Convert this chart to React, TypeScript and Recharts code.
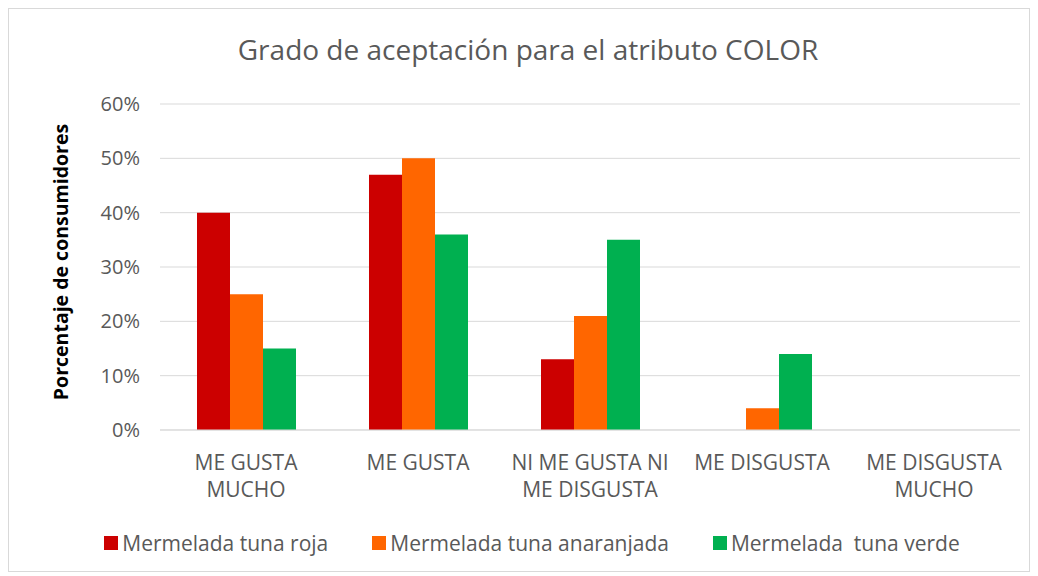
import React from 'react';
import { BarChart, Bar, XAxis, YAxis, CartesianGrid, Legend } from 'recharts';

const categories = ['ME GUSTA\nMUCHO', 'ME GUSTA', 'NI ME GUSTA NI\nME DISGUSTA', 'ME DISGUSTA', 'ME DISGUSTA\nMUCHO'];
const roja = [0.40, 0.47, 0.13, 0, 0];
const anaranjada = [0.25, 0.50, 0.21, 0.04, 0];
const verde = [0.15, 0.36, 0.35, 0.14, 0];
const yTicks = [0, 0.1, 0.2, 0.3, 0.4, 0.5, 0.6];
const seriesNames = ['Mermelada tuna roja', 'Mermelada tuna anaranjada', 'Mermelada  tuna verde'];
const seriesColors = ['#CC0000', '#FF6600', '#00B050'];

const data = categories.map((c, i) => ({ cat: c, roja: roja[i], anaranjada: anaranjada[i], verde: verde[i] }));

const FONT = '"Open Sans", sans-serif';

const XTick = (props: any) => {
  const { x, y, payload } = props;
  const lines = String(payload.value).split('\n');
  return (
    <text x={x} y={y} textAnchor="middle" fill="#595959" fontFamily={FONT} fontSize={21}>
      {lines.map((l, i) => (
        <tspan key={i} x={x} dy={i === 0 ? 32 : 27}>{l}</tspan>
      ))}
    </text>
  );
};

const LegendContent = () => (
  <div style={{ display: 'flex', justifyContent: 'center', gap: 44, fontFamily: FONT, fontSize: 21, color: '#595959', paddingLeft: 26, height: 24, lineHeight: '24px' }}>
    {seriesNames.map((n, i) => (
      <div key={i} style={{ display: 'flex', alignItems: 'center' }}>
        <span style={{ display: 'inline-block', width: 14, height: 14, background: seriesColors[i], marginRight: 4 }} />
        <span style={{ whiteSpace: 'pre' }}>{n}</span>
      </div>
    ))}
  </div>
);

const YLabel = (props: any) => {
  const { viewBox } = props;
  const cx = 51;
  const cy = viewBox.y + viewBox.height / 2 - 5;
  return (
    <text x={cx} y={cy} transform={`rotate(-90, ${cx}, ${cy})`} textAnchor="middle" dominantBaseline="central"
      fontFamily={FONT} fontSize={19.5} fontWeight="bold" fill="#000">
      Porcentaje de consumidores
    </text>
  );
};

export default function App() {
  return (
    <div style={{ position: 'relative', width: 1020, height: 562, border: '1px solid #d9d9d9', background: '#fff' }}>
      <div style={{ position: 'absolute', top: 21, left: 0, width: 1020, textAlign: 'center', fontFamily: FONT, fontSize: 28, color: '#595959', paddingLeft: 18, boxSizing: 'border-box' }}>
        Grado de aceptación para el atributo COLOR
      </div>
      <BarChart width={1020} height={562} data={data} margin={{ top: 95, right: 9, left: 91, bottom: 57 }} barGap={0} barSize={33}>
        <CartesianGrid vertical={false} stroke="#d9d9d9" />
        <XAxis dataKey="cat" tick={<XTick />} tickLine={false} axisLine={{ stroke: '#d9d9d9' }} interval={0} height={60} />
        <YAxis width={60} domain={[0, 0.6]} ticks={yTicks} tickFormatter={(v: number) => `${Math.round(v * 100)}%`}
          tick={{ fill: '#595959', fontFamily: FONT, fontSize: 20 }} tickLine={false} axisLine={false} tickMargin={14}
          label={<YLabel />} />
        <Legend verticalAlign="bottom" content={<LegendContent />} wrapperStyle={{ bottom: 16, left: 0, width: 1020 }} />
        <Bar dataKey="roja" fill={seriesColors[0]} isAnimationActive={false} />
        <Bar dataKey="anaranjada" fill={seriesColors[1]} isAnimationActive={false} />
        <Bar dataKey="verde" fill={seriesColors[2]} isAnimationActive={false} />
      </BarChart>
    </div>
  );
}
